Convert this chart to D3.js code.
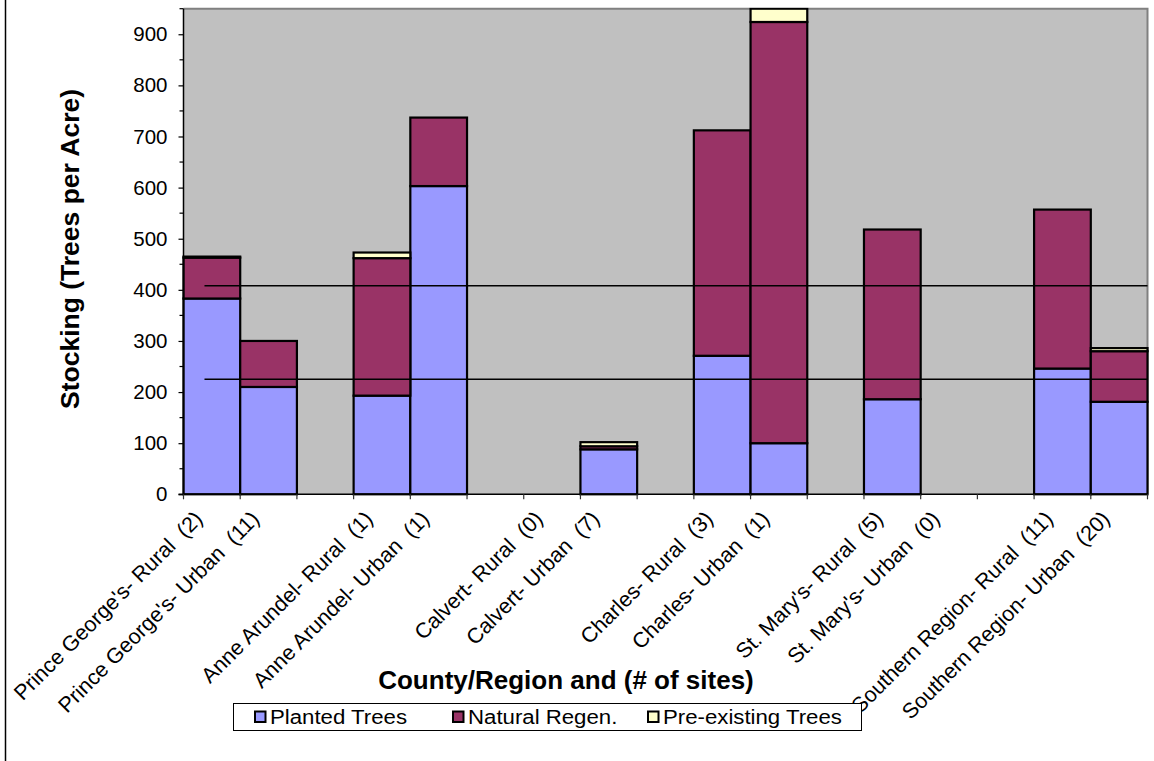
<!DOCTYPE html>
<html>
<head>
<meta charset="utf-8">
<script src="https://cdn.jsdelivr.net/npm/d3@7"></script>
<style>
  html, body { margin: 0; padding: 0; background: #ffffff; }
  svg text { font-family: "Liberation Sans", Arial, sans-serif; fill: #000; }
</style>
</head>
<body>
<svg id="chart" width="1154" height="761"></svg>
<script>
// Stocking by county/region, stacked by origin of trees
const categories = [
  "Prince George's- Rural  (2)", "Prince George's- Urban  (11)", "",
  "Anne Arundel- Rural  (1)", "Anne Arundel- Urban  (1)", "",
  "Calvert- Rural  (0)", "Calvert- Urban  (7)", "",
  "Charles- Rural  (3)", "Charles- Urban  (1)", "",
  "St. Mary's- Rural  (5)", "St. Mary's- Urban  (0)", "",
  "Southern Region- Rural  (11)", "Southern Region- Urban  (20)"
];
const plantedTrees     = [383, 210, 0, 193, 603, 0, 0, 88, 0, 271, 100, 0, 186, 0, 0, 246, 181];
const naturalRegen     = [ 80,  90, 0, 269, 134, 0, 0,  6, 0, 441, 824, 0, 332, 0, 0, 311,  99];
const preexistingTrees = [  2,   0, 0,  11,   0, 0, 0,  8, 0,   0,  26, 0,   0, 0, 0,   0,   6];
const seriesNames = ["Planted Trees", "Natural Regen.", "Pre-existing Trees"];
const seriesColors = ["#9999FF", "#993366", "#FFFFCC"];
const referenceLevels = [408, 225];
const yTicks = [0, 100, 200, 300, 400, 500, 600, 700, 800, 900];
const yMax = 950;

const svg = d3.select("#chart");
const plotLeft = 183.5, plotRight = 1147.5, plotTop = 8.7, plotBottom = 494.3;

const x = d3.scaleBand().domain(d3.range(categories.length)).range([plotLeft, plotRight]).padding(0);
const y = d3.scaleLinear().domain([0, yMax]).range([plotBottom, plotTop]);

// outer frame edge
svg.append("line").attr("x1", 5.5).attr("x2", 5.5).attr("y1", 0).attr("y2", 761)
  .attr("stroke", "#000").attr("stroke-width", 1.5);

// plot background
svg.append("rect").attr("x", plotLeft).attr("y", plotTop).attr("width", plotRight - plotLeft).attr("height", plotBottom - plotTop)
  .attr("fill", "#C0C0C0");
svg.append("path")
  .attr("d", `M${plotLeft},${plotTop}H${plotRight}V${plotBottom}`)
  .attr("fill", "none").attr("stroke", "#808080").attr("stroke-width", 2);

svg.append("clipPath").attr("id", "plotClip")
  .append("rect").attr("x", plotLeft - 2).attr("y", plotTop - 1).attr("width", plotRight - plotLeft + 4).attr("height", plotBottom - plotTop + 3);

const rows = categories.map((c, i) => ({ i, p: plantedTrees[i], n: naturalRegen[i], e: preexistingTrees[i] }));
const stacked = d3.stack().keys(["p", "n", "e"])(rows);

const barsG = svg.append("g").attr("clip-path", "url(#plotClip)");
stacked.forEach((layer, k) => {
  barsG.append("g")
    .selectAll("rect")
    .data(layer.filter(d => d[1] - d[0] > 0))
    .join("rect")
    .attr("x", d => x(d.data.i))
    .attr("width", x.bandwidth())
    .attr("y", d => y(Math.min(d[1], yMax)))
    .attr("height", d => y(d[0]) - y(Math.min(d[1], yMax)))
    .attr("fill", seriesColors[k])
    .attr("stroke", "#000")
    .attr("stroke-width", 2.2);
});

// reference levels
svg.append("g").selectAll("line")
  .data(referenceLevels)
  .join("line")
  .attr("x1", x(0) + x.bandwidth() * 0.37)
  .attr("x2", plotRight)
  .attr("y1", d => y(d)).attr("y2", d => y(d))
  .attr("stroke", "#000").attr("stroke-width", 1.5);

// y axis
const yAxis = svg.append("g").attr("transform", `translate(${plotLeft},0)`)
  .call(d3.axisLeft(y).tickValues(yTicks).tickSize(5).tickPadding(11).tickFormat(d3.format("d")));
yAxis.select(".domain").remove();
yAxis.selectAll(".tick line").attr("stroke", "#000").attr("stroke-width", 1.2);
yAxis.selectAll(".tick text").attr("font-size", 20.5).attr("font-family", "Liberation Sans, Arial, sans-serif");
svg.append("g").selectAll("line")
  .data(d3.range(50, yMax + 1, 100))
  .join("line")
  .attr("x1", plotLeft - 4).attr("x2", plotLeft)
  .attr("y1", d => y(d)).attr("y2", d => y(d))
  .attr("stroke", "#000").attr("stroke-width", 1.2);
svg.append("line").attr("x1", plotLeft).attr("x2", plotLeft).attr("y1", plotTop).attr("y2", plotBottom + 0.5)
  .attr("stroke", "#000").attr("stroke-width", 1.5);

// x axis
svg.append("line").attr("x1", plotLeft - 5).attr("x2", plotRight).attr("y1", plotBottom).attr("y2", plotBottom)
  .attr("stroke", "#000").attr("stroke-width", 1.5);
svg.append("g").selectAll("line")
  .data(d3.range(categories.length + 1))
  .join("line")
  .attr("x1", i => plotLeft + i * x.step()).attr("x2", i => plotLeft + i * x.step())
  .attr("y1", plotBottom).attr("y2", plotBottom + 5)
  .attr("stroke", "#333").attr("stroke-width", 1.2);

svg.append("g").selectAll("text")
  .data(categories.map((c, i) => ({ c, i })).filter(d => d.c))
  .join("text")
  .attr("transform", d => `translate(${x(d.i) + x.bandwidth() / 2 - 8},${plotBottom + 26}) rotate(-45)`)
  .attr("text-anchor", "end")
  .attr("font-size", 21.5)
  .style("white-space", "pre")
  .text(d => d.c);

// axis titles
svg.append("text")
  .attr("transform", `translate(79,249) rotate(-90)`)
  .attr("text-anchor", "middle")
  .attr("font-size", 26.5).attr("font-weight", "bold")
  .text("Stocking (Trees per Acre)");
svg.append("text")
  .attr("x", 566).attr("y", 689)
  .attr("text-anchor", "middle")
  .attr("font-size", 26).attr("font-weight", "bold")
  .text("County/Region and (# of sites)");

// legend
const legend = svg.append("g");
legend.append("rect").attr("x", 233.5).attr("y", 703.5).attr("width", 628).attr("height", 27)
  .attr("fill", "#fff").attr("stroke", "#000").attr("stroke-width", 1);
const legendX = [255, 453, 648];
seriesNames.forEach((name, k) => {
  legend.append("rect").attr("x", legendX[k]).attr("y", 711.5).attr("width", 10.5).attr("height", 10.5)
    .attr("fill", seriesColors[k]).attr("stroke", "#000").attr("stroke-width", 2);
  const t = legend.append("text").attr("x", legendX[k] + 15).attr("y", 724)
    .attr("font-size", 20).text(name);
  const w = t.node().getComputedTextLength();
  t.attr("textLength", w * 1.11).attr("lengthAdjust", "spacingAndGlyphs");
});
</script>
</body>
</html>
